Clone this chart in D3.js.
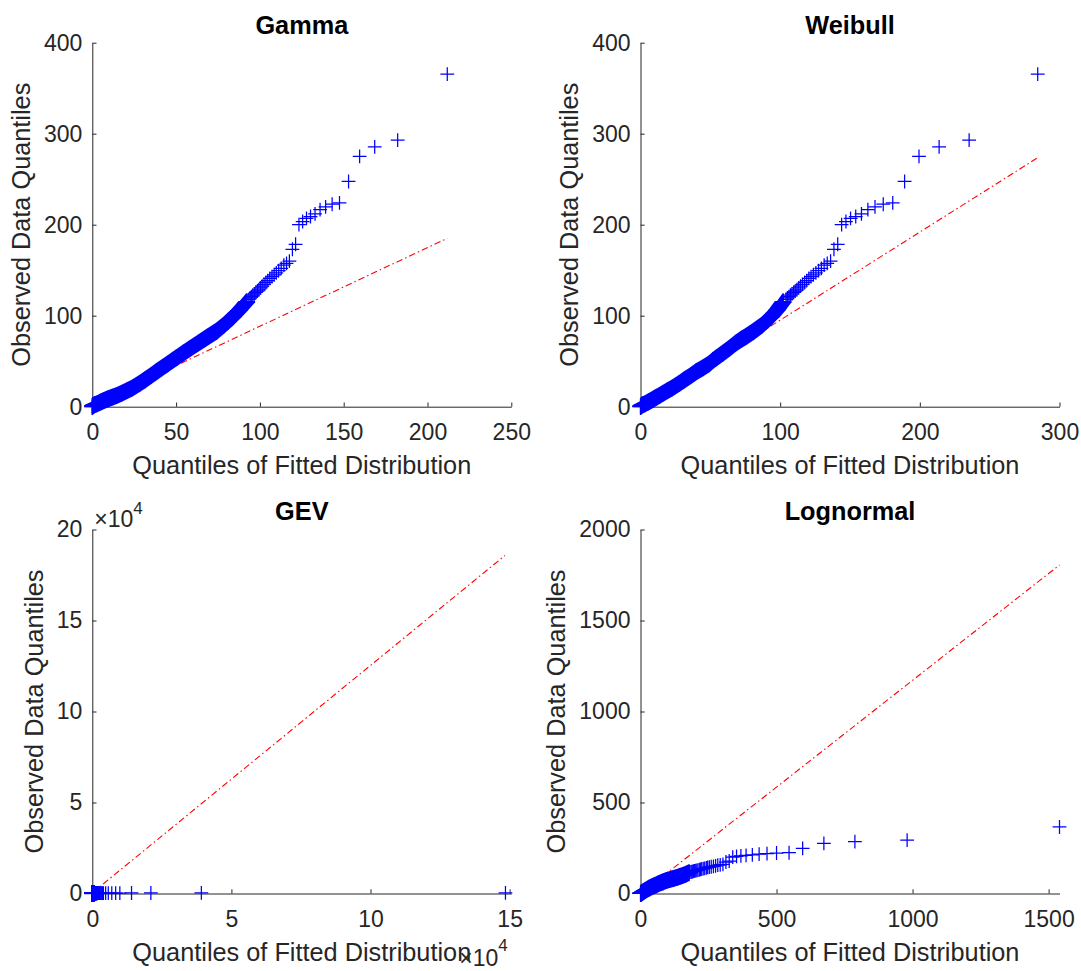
<!DOCTYPE html>
<html>
<head>
<meta charset="utf-8">
<script src="https://cdn.jsdelivr.net/npm/d3@7"></script>
<style>
  html, body { margin: 0; padding: 0; background: #fff; }
  svg { display: block; font-family: "Liberation Sans", Arial, Helvetica, sans-serif; }
</style>
</head>
<body>
<svg id="fig" width="1081" height="971"></svg>
<script>
// Sorted observations (ascending), shared by all four Q-Q plots
const observed = [0.1, 0.3, 0.8, 1.5, 2.3, 3.0, 4.1, 5.3, 6.7, 8.3, 10.2, 12.3, 14.7, 17.5, 20.5, 25.7, 29.5, 34, 38.5, 42.5,
  47, 51, 53.5, 59, 64, 70, 74, 77, 83, 89.5, 94, 99, 106, 115.5, 118, 119.5, 121, 122.5, 124, 125.5,
  127, 128.5, 130.5, 132.5, 134.5, 136.5, 138.5, 141, 143, 145, 147, 149.5, 152, 155.5, 157.5, 160, 173, 178.5, 200, 203.5,
  207, 209, 212, 216.5, 219.5, 222.5, 224, 247.5, 275, 285.5, 293, 365.5];

// Quantiles of each fitted distribution at the same plotting positions
const gammaQuantiles = [0, 0.05, 0.25, 0.7, 1.4, 2.5, 3.8, 5.2, 6.8, 8.9, 11.6, 14.6, 17.5, 20.6, 23.9, 28.4, 31.4, 34.9, 38.3, 41.4,
  44.9, 48.0, 50.0, 54.3, 58.3, 63.3, 66.6, 69.1, 74.2, 78.4, 81.1, 84.1, 87.8, 92.2, 93.4, 94.2, 95.0, 95.8, 96.7, 97.6,
  98.5, 99.4, 100.4, 101.4, 102.5, 103.6, 104.7, 105.9, 107.2, 108.5, 109.8, 111.2, 112.7, 114.3, 115.9, 117.6, 119.4, 121.3, 123.3, 125.5,
  127.8, 130.2, 132.9, 135.9, 139.2, 143.1, 147.5, 152.9, 159.5, 168.5, 182.2, 211.8];

const weibullQuantiles = [0, 0.1, 0.4, 0.9, 1.7, 2.9, 4.2, 5.7, 7.3, 9.2, 11.2, 13.6, 16.2, 19.2, 22.7, 27.9, 31.4, 35.9, 40.0, 44.5,
  49.0, 52.0, 54.2, 59.1, 63.4, 68.3, 72.1, 75.4, 81.2, 86.9, 90.1, 93.7, 97.7, 102.2, 104.2, 105.2, 106.3, 107.3, 108.4, 109.6,
  110.8, 112.0, 113.3, 114.6, 116.0, 117.5, 119.0, 120.5, 122.1, 123.8, 125.6, 127.5, 129.5, 131.5, 133.7, 136.1, 138.5, 141.2, 144.0, 147.1,
  150.4, 154.1, 158.2, 162.8, 167.9, 173.8, 180.6, 189.1, 199.4, 213.8, 235.3, 284.4];

const gevQuantiles = [0, 0, 0, 1, 2, 3.5, 5, 7, 9, 11, 14, 17, 21, 26, 32, 43, 52, 65, 78, 95,
  114, 128, 140, 170, 200, 259, 294, 330, 398, 480, 534, 600, 680, 785, 835, 863, 892, 923, 957, 993,
  1031, 1071, 1114, 1162, 1213, 1268, 1328, 1392, 1463, 1545, 1630, 1730, 1833, 1950, 2087, 2240, 2410, 2615, 2845, 3120,
  3400, 3650, 4000, 4800, 5750, 7000, 8400, 9900, 14100, 21050, 39200, 148500];

const lognormalQuantiles = [0.15, 0.6, 1.1, 1.75, 2.6, 3.6, 4.7, 6.0, 7.4, 9.0, 10.8, 12.9, 15.4, 18.3, 21.9, 27.8, 32.0, 37.8, 43.5, 49.9,
  56.9, 61.8, 65.6, 74.5, 82.8, 92.6, 100.7, 108.1, 121.8, 136, 144.6, 154.5, 166, 179.4, 185, 188.5, 192, 195.5, 199, 203,
  207, 211, 216, 220, 225, 230.5, 236, 242, 247, 253, 260, 268, 276, 284, 293, 303, 314, 326, 339, 353,
  369, 388, 411, 436, 465, 500, 546, 596, 674, 788, 980, 1540];

// Reference lines (end points) for each fit
const gammaFitLine = [[0, 2.0], [211.8, 185]];
const weibullFitLine = [[0, -1.7], [284.4, 273.6]];
const gevFitLine = [[0, 350], [148300, 185700]];
const lognormalFitLine = [[0.15, -1.8], [1540, 1805]];

// Tick values
const gammaXTicks = [0, 50, 100, 150, 200, 250];
const gammaYTicks = [0, 100, 200, 300, 400];
const weibullXTicks = [0, 100, 200, 300];
const weibullYTicks = [0, 100, 200, 300, 400];
const gevXTicks = [0, 50000, 100000, 150000];
const gevYTicks = [0, 50000, 100000, 150000, 200000];
const lognormalXTicks = [0, 500, 1000, 1500];
const lognormalYTicks = [0, 500, 1000, 1500, 2000];

const titles = ["Gamma", "Weibull", "GEV", "Lognormal"];
const xLabel = "Quantiles of Fitted Distribution";
const yLabel = "Observed Data Quantiles";

// Observations below this value are packed so closely that their markers merge
const denseBelow = 116;

// ---- drawing ----
const W = 419, H = 364;
const ARM = 6.9, DENSE_ARM = 8.3, STROKE = 1.25;
const AXIS_COLOR = "#262626";
const TICK_FONT = 23, LABEL_FONT = 25.3;

const svg = d3.select("#fig");
svg.append("rect").attr("width", 1081).attr("height", 971).attr("fill", "#fff");

const panels = [
  { title: titles[0], q: gammaQuantiles, fit: gammaFitLine, left: 92.3, top: 42.7, xMax: 250, yMax: 400, xTicks: gammaXTicks, yTicks: gammaYTicks },
  { title: titles[1], q: weibullQuantiles, fit: weibullFitLine, left: 640.5, top: 42.7, xMax: 300, yMax: 400, xTicks: weibullXTicks, yTicks: weibullYTicks },
  { title: titles[2], q: gevQuantiles, fit: gevFitLine, left: 92.3, top: 529.5, xMax: 150600, yMax: 200000, xTicks: gevXTicks, yTicks: gevYTicks, exponent: 4 },
  { title: titles[3], q: lognormalQuantiles, fit: lognormalFitLine, left: 640.5, top: 529.5, xMax: 1540, yMax: 2000, xTicks: lognormalXTicks, yTicks: lognormalYTicks }
];

// convex hull swept by one marker arm moving between two neighbouring points
function hull(p1, p2, hw, hh) {
  const pts = [];
  for (const p of [p1, p2]) {
    pts.push([p[0] - hw, p[1] - hh], [p[0] + hw, p[1] - hh], [p[0] + hw, p[1] + hh], [p[0] - hw, p[1] + hh]);
  }
  return "M" + d3.polygonHull(pts).map(d => d.join(",")).join("L") + "Z";
}

function drawPanel(cfg) {
  const g = svg.append("g").attr("transform", `translate(${cfg.left},${cfg.top})`);
  const x = d3.scaleLinear().domain([0, cfg.xMax]).range([0, W]);
  const y = d3.scaleLinear().domain([0, cfg.yMax]).range([H, 0]);
  const div = cfg.exponent ? Math.pow(10, cfg.exponent) : 1;
  const fmt = d => String(d / div);

  const xAxis = g.append("g").attr("transform", `translate(0,${H})`)
    .call(d3.axisBottom(x).tickValues(cfg.xTicks).tickFormat(fmt).tickSizeInner(-4.2).tickSizeOuter(0).tickPadding(17));
  const yAxis = g.append("g")
    .call(d3.axisLeft(y).tickValues(cfg.yTicks).tickFormat(fmt).tickSizeInner(-4.2).tickSizeOuter(0).tickPadding(10));
  for (const ax of [xAxis, yAxis]) {
    ax.attr("font-size", null).attr("font-family", null).style("color", AXIS_COLOR);
    ax.selectAll("text").attr("font-size", TICK_FONT).attr("fill", AXIS_COLOR);
    ax.selectAll("path, line").attr("stroke", AXIS_COLOR).attr("stroke-width", 1);
  }

  // fitted reference line
  g.append("path")
    .attr("d", d3.line().x(d => x(d[0])).y(d => y(d[1]))(cfg.fit))
    .attr("fill", "none").attr("stroke", "#ff0000").attr("stroke-width", 1.1)
    .attr("stroke-dasharray", "6.5,3,1.5,3");

  // observations vs fitted quantiles
  const pts = observed.map((v, i) => [x(cfg.q[i]), y(v), v]);
  const dense = g.append("g").attr("fill", "#0000ff");
  for (let i = 0; i + 1 < pts.length; i++) {
    if (pts[i][2] <= denseBelow && pts[i + 1][2] <= denseBelow) {
      dense.append("path").attr("d", hull(pts[i], pts[i + 1], DENSE_ARM, STROKE / 2));
      dense.append("path").attr("d", hull(pts[i], pts[i + 1], STROKE / 2, DENSE_ARM));
    }
  }
  g.append("g").selectAll("path").data(pts).join("path")
    .attr("d", d => `M${d[0] - ARM},${d[1]}H${d[0] + ARM}M${d[0]},${d[1] - ARM}V${d[1] + ARM}`)
    .attr("fill", "none").attr("stroke", "#0000ff").attr("stroke-width", STROKE);

  // axis labels
  let maxW = 0;
  yAxis.selectAll("text").each(function () { maxW = Math.max(maxW, this.getBBox().width); });
  g.append("text")
    .attr("transform", `translate(${-10 - maxW - 14},${H / 2}) rotate(-90)`)
    .attr("text-anchor", "middle").attr("font-size", LABEL_FONT).attr("fill", AXIS_COLOR)
    .text(yLabel);
  g.append("text")
    .attr("x", W / 2).attr("y", H + 67.8)
    .attr("text-anchor", "middle").attr("font-size", LABEL_FONT).attr("fill", AXIS_COLOR)
    .text(xLabel);
  g.append("text")
    .attr("x", W / 2).attr("y", -9.2)
    .attr("text-anchor", "middle").attr("font-size", LABEL_FONT).attr("font-weight", "bold").attr("fill", "#000")
    .text(cfg.title);

  if (cfg.exponent) {
    const yx = g.append("text").attr("x", 2).attr("y", -3).attr("fill", AXIS_COLOR).attr("font-size", TICK_FONT);
    yx.append("tspan").text("\u00d710");
    yx.append("tspan").attr("font-size", 17).attr("dy", -13).text(cfg.exponent);
    const xx = g.append("text").attr("x", W - 52).attr("y", H + 72).attr("fill", AXIS_COLOR).attr("font-size", TICK_FONT);
    xx.append("tspan").text("\u00d710");
    xx.append("tspan").attr("font-size", 17).attr("dy", -15).text(cfg.exponent);
  }
}

panels.forEach(drawPanel);
</script>
</body>
</html>
